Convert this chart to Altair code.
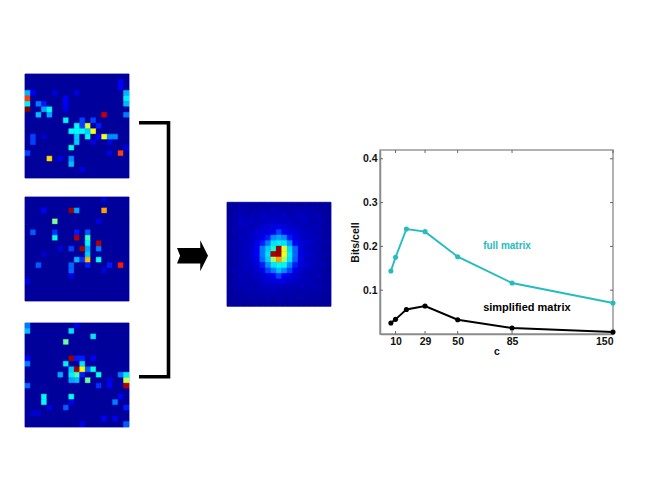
import altair as alt
import pandas as pd

alt.data_transformers.disable_max_rows()

GRID = 19
LEVELS = [0, 0.125, 0.375, 0.625, 0.875, 1]
JET = ["#00007f", "#0000ff", "#00ffff", "#ffff00", "#ff0000", "#7f0000"]
BACKGROUND = 0.03

map1_cols = [0,0,0,0,1,2,3,2,4,4,3,7,7,7,7,9,10,12,11,10,12,11,8,9,10,11,9,9,8,14,15,16,14,17,4,8,8,0,1,1,18,18,18,18,17,17,15,13,12,6,5,9,10,15,18,3,13]
map1_rows = [3,4,5,6,3,5,6,7,6,7,5,8,4,5,6,9,8,8,9,9,10,10,10,10,10,11,11,12,13,11,11,11,7,14,15,15,16,14,11,12,3,4,5,7,1,2,12,11,12,15,3,3,17,14,13,11,9]
map1_vals = [.27,.85,.35,1.0,.12,.2,.25,.28,.37,.25,.13,.36,.12,.12,.1,.37,.15,.15,.6,.15,.62,.3,.38,.38,.38,.42,.3,.3,.43,.62,.22,.22,.93,.85,.68,.22,.28,.15,.15,.15,.27,.35,.27,.2,.12,.12,.1,.12,.1,.1,.09,.09,.1,.1,.1,.08,.13]

map2_cols = [8,9,14,3,5,1,5,9,11,13,5,9,11,11,13,11,10,13,8,6,11,9,11,13,10,17,2,8,8,11,15,14,0,8,3,14]
map2_rows = [2,2,2,2,4,6,6,6,6,4,7,7,7,8,8,9,9,9,9,9,10,11,11,11,11,12,12,12,13,12,12,13,15,14,10,0]
map2_vals = [.97,.25,.75,.12,.52,.17,.14,.13,.17,.1,.42,.95,.47,.36,.95,.25,.97,.2,.15,.09,.3,.27,.72,.37,.14,.87,.17,.18,.18,.13,.13,.1,.1,.1,.08,.08]

map3_cols = [0,0,8,9,12,7,0,0,8,9,10,12,7,10,8,9,10,12,11,6,8,9,10,13,17,18,9,8,11,18,18,0,13,15,15,17,16,8,3,3,7,8,4,18,1,2,14,16,18,10]
map3_rows = [0,1,1,0,2,3,6,7,6,6,6,6,7,7,8,8,8,8,8,9,9,9,9,9,9,9,10,10,10,10,11,11,11,10,11,13,14,13,13,14,15,14,15,15,16,16,17,17,18,18]
map3_vals = [.2,.28,.33,.1,.33,.5,.12,.2,.97,.13,.13,.12,.35,.33,.3,.97,.63,.42,.17,.25,.35,.48,.13,.43,.2,.35,.28,.25,.5,.58,.95,.18,.14,.1,.12,.12,.2,.38,.37,.38,.17,.11,.1,.13,.08,.08,.12,.11,.17,.1]

center_grid = [
    [.03,.03,.04,.04,.04,.03,.04,.04,.04,.04,.03,.04,.04,.03,.04,.03,.04,.03,.03],
    [.03,.04,.05,.05,.04,.05,.05,.05,.06,.05,.05,.05,.05,.05,.05,.05,.04,.04,.03],
    [.03,.05,.06,.05,.06,.05,.07,.06,.06,.06,.07,.05,.06,.07,.06,.05,.06,.04,.04],
    [.04,.04,.07,.06,.07,.06,.06,.07,.08,.07,.07,.07,.06,.06,.07,.05,.05,.05,.03],
    [.03,.05,.06,.07,.05,.07,.08,.08,.09,.1,.09,.08,.07,.07,.05,.06,.06,.04,.04],
    [.04,.05,.05,.06,.07,.08,.09,.1,.11,.15,.12,.1,.09,.07,.07,.06,.05,.05,.03],
    [.03,.04,.06,.06,.07,.09,.1,.13,.22,.25,.22,.13,.1,.08,.07,.06,.06,.04,.04],
    [.04,.05,.05,.07,.07,.1,.13,.2,.33,.36,.33,.22,.12,.09,.08,.07,.05,.05,.04],
    [.03,.05,.06,.06,.08,.11,.2,.3,.45,.97,.6,.32,.18,.1,.07,.06,.06,.04,.03],
    [.04,.04,.06,.07,.08,.12,.2,.33,.95,.97,.62,.35,.18,.1,.08,.07,.05,.05,.04],
    [.03,.05,.05,.06,.08,.1,.18,.3,.55,.75,.55,.33,.17,.1,.07,.06,.06,.04,.03],
    [.03,.04,.06,.07,.07,.09,.13,.22,.33,.42,.36,.22,.13,.09,.08,.07,.05,.05,.04],
    [.04,.05,.05,.06,.07,.08,.1,.15,.2,.28,.22,.15,.1,.08,.06,.06,.05,.04,.03],
    [.03,.04,.06,.05,.06,.07,.08,.1,.12,.15,.12,.1,.08,.07,.06,.05,.06,.05,.04],
    [.03,.05,.05,.06,.05,.06,.07,.08,.09,.09,.09,.08,.07,.06,.06,.06,.04,.04,.03],
    [.04,.04,.05,.05,.06,.05,.06,.07,.06,.07,.06,.06,.05,.06,.05,.05,.05,.04,.04],
    [.03,.04,.04,.05,.04,.05,.05,.05,.06,.05,.05,.05,.05,.04,.05,.04,.04,.04,.03],
    [.03,.03,.04,.04,.05,.04,.04,.05,.04,.05,.04,.04,.04,.05,.04,.04,.04,.03,.03],
    [.03,.03,.03,.03,.03,.04,.03,.04,.03,.04,.03,.04,.03,.03,.03,.03,.03,.03,.03],
]

c_values = [7, 10, 17, 29, 50, 85, 150]
full_matrix = [.1438, .175, .2397, .2336, .1765, .1164, .0708]
simplified_matrix = [.025, .0334, .056, .0639, .0326, .0137, .0046]
x_ticks = [10, 29, 50, 85, 150]
y_ticks = [0.1, 0.2, 0.3, 0.4]

CYAN = "#25bcc0"
FONT = "Liberation Sans"
PANEL_H = 353
MAP_W = 104


def sparse_frame(cols, rows, vals):
    grid = {(r, c): BACKGROUND for r in range(GRID) for c in range(GRID)}
    for c, r, v in zip(cols, rows, vals):
        grid[(r, c)] = v
    return pd.DataFrame(
        [{"c0": c, "c1": c + 1, "r0": r, "r1": r + 1, "v": v} for (r, c), v in grid.items()]
    )


def dense_frame(matrix):
    return pd.DataFrame(
        [{"c0": c, "c1": c + 1, "r0": r, "r1": r + 1, "v": v}
         for r, row in enumerate(matrix) for c, v in enumerate(row)]
    )


def heatmap(df, y_domain=(0, GRID), height=MAP_W):
    scale = alt.Scale(domain=LEVELS, range=JET, clamp=True)
    x_s = alt.Scale(domain=[0, GRID], nice=False, zero=False)
    y_s = alt.Scale(domain=list(y_domain), reverse=True, nice=False, zero=False)
    under = alt.Chart(pd.DataFrame({"c0": [0], "c1": [GRID], "r0": [0], "r1": [GRID]})).mark_rect(
        color="#000094", stroke="#9aa0c8", strokeWidth=1
    ).encode(
        x=alt.X("c0:Q", scale=x_s, axis=None), x2="c1:Q",
        y=alt.Y("r0:Q", scale=y_s, axis=None), y2="r1:Q",
    )
    cells = alt.Chart(df).mark_rect(strokeWidth=0.5).encode(
        x=alt.X("c0:Q", scale=x_s, axis=None),
        x2="c1:Q",
        y=alt.Y("r0:Q", scale=y_s, axis=None),
        y2="r1:Q",
        fill=alt.Fill("v:Q", scale=scale, legend=None),
        stroke=alt.Stroke("v:Q", scale=scale, legend=None),
    )
    return (under + cells).properties(width=MAP_W, height=height, view=alt.ViewBackground(stroke=None))


# bracket and arrow panel, in a pixel-sized scale of its own
bracket_x = [9, 38.5, 38.5, 9]
bracket_y = [48.7, 48.7, 302.7, 302.7]
arrow_x = [62.5]
arrow_y = [181.7]
panel_x = alt.Scale(domain=[0, 96], nice=False, zero=False)
panel_y = alt.Scale(domain=[0, PANEL_H], reverse=True, nice=False, zero=False)

bracket = alt.Chart(pd.DataFrame({"x": bracket_x, "y": bracket_y, "o": range(4)})).mark_line(
    color="black", strokeWidth=3.6, strokeJoin="miter", strokeCap="butt"
).encode(
    x=alt.X("x:Q", scale=panel_x, axis=None),
    y=alt.Y("y:Q", scale=panel_y, axis=None),
    order="o:Q",
)
arrow = alt.Chart(pd.DataFrame({"x": arrow_x, "y": arrow_y})).mark_point(
    shape="M-1,-.5 L.5,-.5 L.5,-1 L1,0 L.5,1 L.5,.5 L-1,.5 L-.8,0 Z",
    filled=True, size=961, color="black", opacity=1,
).encode(
    x=alt.X("x:Q", scale=panel_x, axis=None),
    y=alt.Y("y:Q", scale=panel_y, axis=None),
)
connector = (bracket + arrow).properties(width=96, height=PANEL_H, view=alt.ViewBackground(stroke=None))

# line chart
long_df = pd.DataFrame({
    "c": c_values * 2,
    "bits": full_matrix + simplified_matrix,
    "series": ["full matrix"] * len(c_values) + ["simplified matrix"] * len(c_values),
})
x_scale = alt.Scale(domain=[0, 150], nice=False, zero=False)
y_scale = alt.Scale(domain=[0, 0.42], nice=False, zero=False)
color_scale = alt.Scale(domain=["full matrix", "simplified matrix"], range=[CYAN, "black"])
LINE_W, LINE_H = 233, 184

x_enc = alt.X("c:Q", scale=x_scale, title="c", axis=alt.Axis(
    values=x_ticks, tickSize=0, labelPadding=2, titlePadding=0, grid=False,
    domainColor="#8a8a8a", domainWidth=1.5, labelFont=FONT, titleFont=FONT, labelFontSize=10.5, titleFontSize=10.5,
    labelFontWeight="bold", titleFontWeight="bold", labelColor="#111111", titleColor="#111111",
))
y_enc = alt.Y("bits:Q", scale=y_scale, title="Bits/cell", axis=alt.Axis(
    values=y_ticks, format=".1f", tickSize=0, labelPadding=3, titlePadding=2, grid=False,
    domainColor="#8a8a8a", domainWidth=1.5, labelFont=FONT, titleFont=FONT, labelFontSize=10.5, titleFontSize=10.5,
    labelFontWeight="bold", titleFontWeight="bold", labelColor="#111111", titleColor="#111111",
))

lines = alt.Chart(long_df).mark_line(strokeWidth=1.9).encode(
    x=x_enc, y=y_enc,
    color=alt.Color("series:N", scale=color_scale, legend=None),
)
dots = alt.Chart(long_df).mark_circle(size=26, opacity=1).encode(
    x=alt.X("c:Q", scale=x_scale), y=alt.Y("bits:Q", scale=y_scale),
    color=alt.Color("series:N", scale=color_scale, legend=None),
)
full_label = alt.Chart(pd.DataFrame({
    "c": [66.4], "bits": [.2009], "series": ["full matrix"],
})).mark_text(align="left", baseline="middle", font=FONT, fontSize=10, fontWeight="bold").encode(
    x=alt.X("c:Q", scale=x_scale), y=alt.Y("bits:Q", scale=y_scale),
    text="series:N",
    color=alt.Color("series:N", scale=color_scale, legend=None),
)
simple_label = alt.Chart(pd.DataFrame({
    "c": [66.4], "bits": [.0585], "series": ["simplified matrix"],
})).mark_text(align="left", baseline="middle", font=FONT, fontSize=11, fontWeight="bold").encode(
    x=alt.X("c:Q", scale=x_scale), y=alt.Y("bits:Q", scale=y_scale),
    text="series:N",
    color=alt.Color("series:N", scale=color_scale, legend=None),
)

tick_frame_y = pd.DataFrame({"bits": y_ticks})
tick_frame_x = pd.DataFrame({"c": x_ticks})
ticks_left = alt.Chart(tick_frame_y).mark_rule(color="#666666").encode(
    y=alt.Y("bits:Q", scale=y_scale), x=alt.value(0), x2=alt.value(3))
ticks_right = alt.Chart(tick_frame_y).mark_rule(color="#666666").encode(
    y=alt.Y("bits:Q", scale=y_scale), x=alt.value(LINE_W - 3), x2=alt.value(LINE_W))
ticks_bottom = alt.Chart(tick_frame_x).mark_rule(color="#666666").encode(
    x=alt.X("c:Q", scale=x_scale), y=alt.value(LINE_H - 3), y2=alt.value(LINE_H))
ticks_top = alt.Chart(tick_frame_x).mark_rule(color="#666666").encode(
    x=alt.X("c:Q", scale=x_scale), y=alt.value(0), y2=alt.value(3))

line_chart = (ticks_left + ticks_right + ticks_bottom + ticks_top + lines + dots + full_label + simple_label).properties(
    width=LINE_W, height=LINE_H, view=alt.ViewBackground(stroke="#999999", strokeWidth=1.5)
)

spacer = alt.Chart(pd.DataFrame({"a": [0]})).mark_point(opacity=0).encode(
    x=alt.value(0), y=alt.value(0)
).properties(width=LINE_W, height=74, view=alt.ViewBackground(stroke=None))

left_col = alt.vconcat(
    alt.vconcat(
        heatmap(sparse_frame(map1_cols, map1_rows, map1_vals)),
        heatmap(sparse_frame(map2_cols, map2_rows, map2_vals)),
        spacing=17,
    ),
    heatmap(sparse_frame(map3_cols, map3_rows, map3_vals)),
    spacing=20,
)
center = heatmap(dense_frame(center_grid), y_domain=(-23.44, 41.06), height=PANEL_H)

diagram = alt.hconcat(left_col, connector, center, spacing=0).resolve_scale(
    fill="independent", stroke="independent", color="independent")
right = alt.vconcat(spacer, line_chart, spacing=0)

chart = alt.hconcat(diagram, right, spacing=17).properties(
    padding={"left": 16, "top": 63, "right": 0, "bottom": 0},
    background="white",
).configure_view(stroke=None)

chart.save("out.html", embed_options={"renderer": "svg", "actions": False})
